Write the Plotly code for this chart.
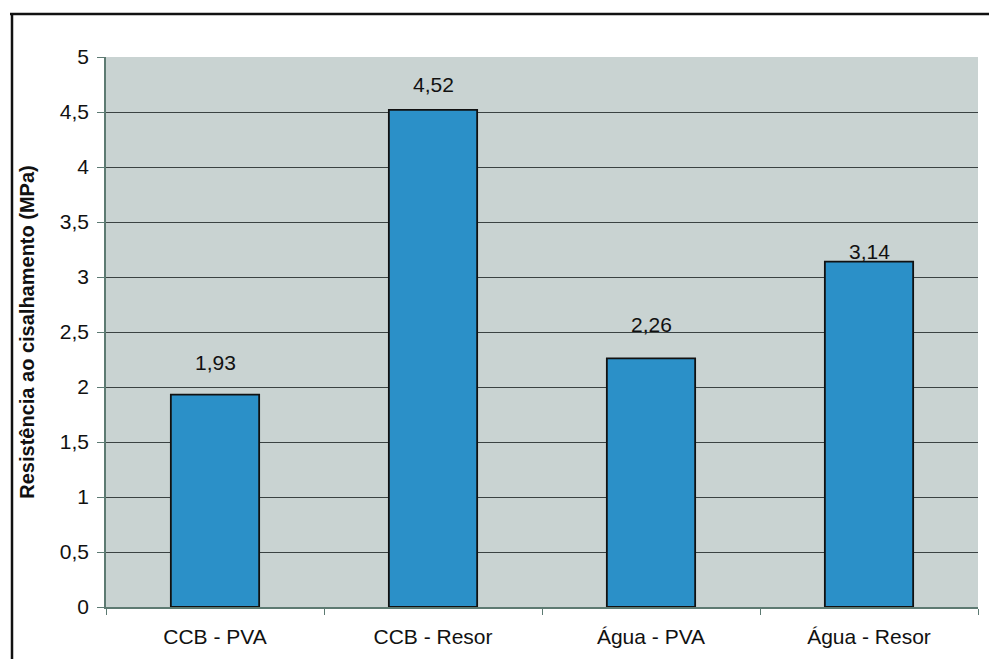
import plotly.graph_objects as go

# Shear strength results per adhesive / treatment combination
categories = ["CCB - PVA", "CCB - Resor", "Água - PVA", "Água - Resor"]
values = [1.93, 4.52, 2.26, 3.14]
label_offsets = [32, 25, 34, 10]  # px between bar top and the centre of its value label

y_ticks = [0, 0.5, 1, 1.5, 2, 2.5, 3, 3.5, 4, 4.5, 5]
y_tick_text = ["0", "0,5", "1", "1,5", "2", "2,5", "3", "3,5", "4", "4,5", "5"]

FONT = "Arial, Liberation Sans, sans-serif"
BAR_COLOR = "#2b90c8"
GRID_COLOR = "#3a4242"
AXIS_COLOR = "#5d7a72"

fig = go.Figure()
fig.add_trace(go.Bar(
    x=categories,
    y=values,
    width=0.405,
    marker=dict(color=BAR_COLOR, line=dict(color="#111111", width=1.8)),
    hoverinfo="x+y",
))

# value labels above each bar
for cat, val, off in zip(categories, values, label_offsets):
    fig.add_annotation(
        x=cat, y=val, text=f"{val:.2f}".replace(".", ","),
        showarrow=False, yanchor="middle", yshift=off,
        font=dict(family=FONT, size=21, color="#111111"),
    )

# outer chart frame (top and left edges)
W, H = 989, 659
L, R, T, B = 106, 11, 57, 52
pw, ph = W - L - R, H - T - B
def px_x(x): return (x - L) / pw
def px_y(y): return (H - B - y) / ph

fig.add_shape(type="line", xref="paper", yref="paper",
              x0=px_x(10), x1=px_x(989), y0=px_y(14), y1=px_y(14),
              line=dict(color="#111111", width=2.5))
fig.add_shape(type="line", xref="paper", yref="paper",
              x0=px_x(12), x1=px_x(12), y0=px_y(14), y1=px_y(659),
              line=dict(color="#111111", width=2.5))

fig.update_layout(
    width=W, height=H,
    margin=dict(l=L, r=R, t=T, b=B),
    paper_bgcolor="white",
    plot_bgcolor="#c9d3d2",
    showlegend=False,
    separators=",.",
    font=dict(family=FONT, size=21, color="#111111"),
)
fig.update_xaxes(
    showline=True, linecolor=AXIS_COLOR, linewidth=1.5,
    ticks="outside", tickson="boundaries", ticklen=6, tickcolor=AXIS_COLOR,
    tickfont=dict(family=FONT, size=21, color="#111111"),
    ticklabelstandoff=10,
    showgrid=False,
)
fig.update_yaxes(
    range=[0, 5], tickvals=y_ticks, ticktext=y_tick_text,
    showline=True, linecolor=AXIS_COLOR, linewidth=1.5,
    ticks="outside", ticklen=7, tickcolor=AXIS_COLOR,
    tickfont=dict(family=FONT, size=21, color="#111111"),
    ticklabelstandoff=4,
    showgrid=True, gridcolor=GRID_COLOR, gridwidth=1.3,
    zeroline=False,
    title=dict(text="<b>Resistência ao cisalhamento (MPa)</b>",
               font=dict(family=FONT, size=20, color="#111111"), standoff=20),
)

fig.write_html("out.html")
